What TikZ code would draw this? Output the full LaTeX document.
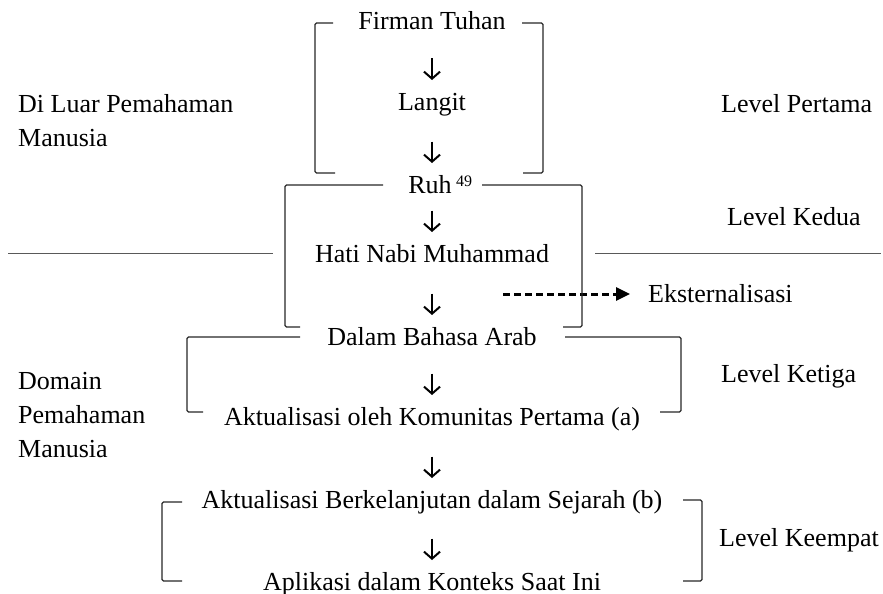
\documentclass[tikz,border=0pt]{standalone}
\usepackage{fontspec}
\setmainfont{Liberation Serif}
\usetikzlibrary{arrows.meta, positioning}

\begin{document}
\begin{tikzpicture}[x=1pt,y=-1pt,font=\fontsize{26}{34}\selectfont]
    \tikzstyle{stage}=[inner sep=0pt, text height=17pt, text depth=0pt]
    \tikzstyle{lvl}=[stage, anchor=west]
    \tikzstyle{side}=[anchor=west, align=left, inner sep=0pt]
    \tikzstyle{brak}=[draw=black!85, line width=1.1pt, rounded corners=1.5pt]
    \tikzstyle{flow}=[draw, line width=2pt, -{Straight Barb[length=7pt,width=16pt]}, shorten >=21.5pt]
    \tikzstyle{extflow}=[draw, line width=3pt, dash pattern=on 7pt off 4pt, -{Triangle[length=14pt,width=13pt]}, shorten >=18pt]

    \useasboundingbox (0,0) rectangle (883,594);

    % main column
    \node[stage] (ft) at (432,21.5) {Firman Tuhan};
    \node[stage] (lg) at (432,101.5) {Langit};
    \node[stage] (ruh) at (430,184.5) {Ruh\rlap{\,\raisebox{7pt}{\fontsize{16}{16}\selectfont 49}}};
    \node[stage] (hati) at (432,253.5) {Hati Nabi Muhammad};
    \node[stage] (arab) at (432,336.5) {Dalam Bahasa Arab};
    \node[stage] (akta) at (432,416.5) {Aktualisasi oleh Komunitas Pertama (a)};
    \node[stage] (aktb) at (432,499.5) {Aktualisasi Berkelanjutan dalam Sejarah (b)};
    \node[stage] (apl) at (432,581.5) {Aplikasi dalam Konteks Saat Ini};

    % levels
    \node[lvl] (l1) at (721,103.5) {Level Pertama};
    \node[lvl] (l2) at (727,216.5) {Level Kedua};
    \node[lvl] (l3) at (721,374) {Level Ketiga};
    \node[lvl] (l4) at (719,537.5) {Level Keempat};
    \node[lvl] (eks) at (648,294) {Eksternalisasi};

    \node[side] (luar) at (18,121) {Di Luar Pemahaman\\Manusia};
    \node[side] (domain) at (18,415) {Domain\\Pemahaman\\Manusia};

    \draw[flow, shorten <=37pt] (ft.center) -- (lg.center);
    \draw[flow, shorten <=40pt] (lg.center) -- (ruh.center -| lg.center);
    \draw[flow, shorten <=26pt] (ruh.center -| hati.center) -- (hati.center);
    \draw[flow, shorten <=40pt] (hati.center) -- (arab.center);
    \draw[flow, shorten <=37pt] (arab.center) -- (akta.center);
    \draw[flow, shorten <=40pt] (akta.center) -- (aktb.center);
    \draw[flow, shorten <=39pt] (aktb.center) -- (apl.center);

    \coordinate (dstart) at (503,294);
    \draw[extflow] (dstart) -- (eks.west);

    % separators
    \draw[black!65, line width=1pt] (8,253) -- (273,253);
    \draw[black!65, line width=1pt] (595,253) -- (881,253);

    % brackets
    \draw[brak] (333,23) -- (315,23) -- (315,173) -- (335,173);
    \draw[brak] (522,23) -- (543,23) -- (543,173) -- (523,173);
    \draw[brak] (383,185) -- (285,185) -- (285,327) -- (300,327);
    \draw[brak] (482,185) -- (582,185) -- (582,327) -- (563,327);
    \draw[brak] (300,337) -- (187,337) -- (187,412) -- (203,412);
    \draw[brak] (565,337) -- (681,337) -- (681,412) -- (660,412);
    \draw[brak] (182,502) -- (162,502) -- (162,581) -- (182,581);
    \draw[brak] (683,500) -- (702,500) -- (702,581) -- (683,581);
\end{tikzpicture}
\end{document}
